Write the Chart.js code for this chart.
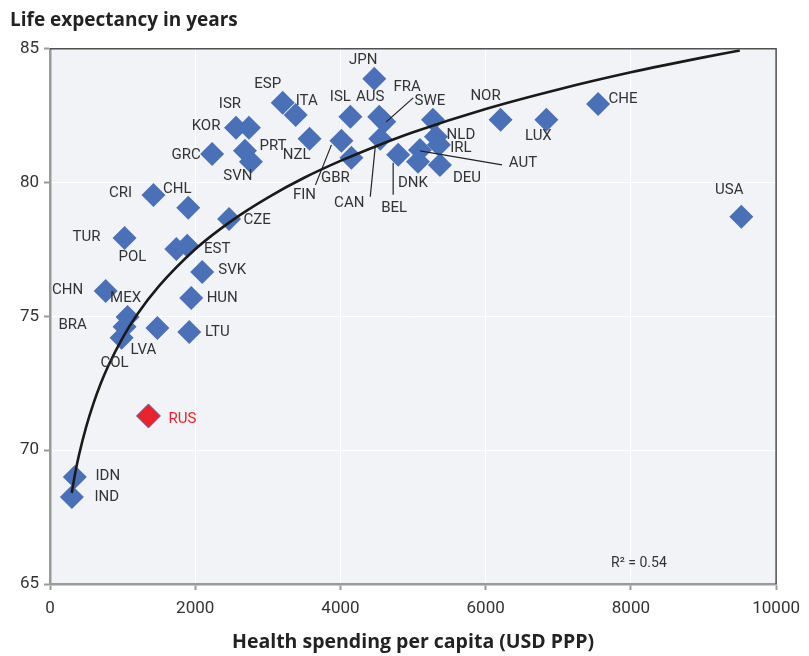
<!DOCTYPE html>
<html>
<head>
<meta charset="utf-8">
<script src="https://cdn.jsdelivr.net/npm/chart.js@4/dist/chart.umd.min.js"></script>
<style>
  html, body { margin: 0; padding: 0; background: #ffffff; }
  #wrap { width: 809px; height: 656px; position: relative; }
</style>
</head>
<body>
<div id="wrap"><canvas id="c" width="809" height="656"></canvas></div>
<script>
// ---- Data ----
const countries = ["JPN","ESP","ITA","KOR","ISR","GRC","PRT","SVN","NZL","CRI","CHL","CZE","TUR","POL","EST","SVK","HUN","CHN","MEX","BRA","COL","LVA","LTU","RUS","IDN","IND","ISL","AUS","FRA","FIN","GBR","CAN","BEL","SWE","NLD","IRL","AUT","DNK","DEU","NOR","LUX","CHE","USA"];
const spending  = [4466,3205,3384,2562,2740,2233,2685,2767,3575,1425,1904,2466,1027,1740,1890,2096,1945,767,1068,1027,986,1479,1918,1356,342,301,4137,4534,4603,4014,4151,4548,4795,5274,5315,5356,5096,5068,5370,6205,6836,7548,9521];
const lifeExp   = [83.88,82.98,82.53,82.05,82.05,81.07,81.19,80.78,81.64,79.54,79.06,78.64,77.93,77.52,77.64,76.66,75.69,75.95,74.98,74.61,74.20,74.57,74.42,71.28,69.0,68.25,82.46,82.46,82.27,81.56,80.93,81.64,81.04,82.35,81.71,81.41,81.22,80.78,80.66,82.35,82.35,82.94,78.72];

// Trend curve, points
const trendX = [300,350,400,500,600,700,800,1000,1200,1500,2000,2500,3000,3500,4000,4500,5000,6000,7000,8000,9000,9500];
const trendY = [68.40,69.19,69.83,70.89,71.76,72.50,73.14,74.20,75.07,76.13,77.51,78.57,79.44,80.18,80.81,81.37,81.88,82.75,83.48,84.12,84.68,84.94];

const xTicks = [0,2000,4000,6000,8000,10000];
const yTicks = [65,70,75,80,85];
const rSquaredText = "R² = 0.54";
const highlight = "RUS";

// ---- Layout of labels (pixel offsets from each marker) ----
const labelOffsets = {
  JPN:[-11,-19], ESP:[-15,-19], ITA:[11,-14], ISR:[-19,-23], KOR:[-30,-1], GRC:[-26,1],
  PRT:[28,-5], SVN:[-13,15], NZL:[-13,17], CRI:[-33,-2], CHL:[-11,-19], CZE:[28,1],
  TUR:[-38,-1], POL:[-44,8], EST:[30,3], SVK:[30,-2], HUN:[31,0], CHN:[-38,-1],
  MEX:[-2,-19], BRA:[-52,-2], LVA:[-14,22], COL:[-7,25], LTU:[28,0], RUS:[34,3],
  IDN:[33,-1], IND:[35,0], ISL:[-10,-20], AUS:[-9,-20], FRA:[23,-35], SWE:[-3,-18],
  NOR:[-15,-23], LUX:[-8,17], CHE:[25,-5], USA:[-12,-27], NLD:[25,-2], IRL:[22,3],
  AUT:[103,13], DNK:[-5,22], DEU:[27,13], BEL:[-4,53], CAN:[-31,65], FIN:[-37,54], GBR:[-16,21]
};
const leaderLines = {
  FRA:[[29,-24],[2,0]],
  FIN:[[-10,4],[-26,44]],
  CAN:[[-5,8],[-10,58]],
  BEL:[[-5,8],[-5,40]],
  AUT:[[0,1],[82,15]]
};

const BLUE = '#4a71b8';
const RED = '#e8232b';
const FONT = 'Roboto, "Liberation Sans", sans-serif';
const BOLD_FONT = '"Open Sans", Roboto, sans-serif';

const bgPlugin = {
  id: 'plotBg',
  beforeDraw(chart) {
    const {ctx, chartArea: a} = chart;
    ctx.save();
    ctx.fillStyle = '#f2f3f6';
    ctx.fillRect(a.left, a.top, a.right - a.left, a.bottom - a.top);
    ctx.restore();
  },
  afterDraw(chart) {
    const {ctx, chartArea: a} = chart;
    ctx.save();
    ctx.strokeStyle = '#505050';
    ctx.lineWidth = 1.5;
    ctx.beginPath();
    ctx.moveTo(a.left, a.top);
    ctx.lineTo(a.right, a.top);
    ctx.lineTo(a.right, a.bottom);
    ctx.stroke();
    ctx.fillStyle = '#333';
    ctx.font = '14px ' + FONT;
    ctx.textAlign = 'left';
    ctx.textBaseline = 'middle';
    ctx.fillText(rSquaredText, a.right - 165, a.bottom - 21);
    ctx.restore();
  }
};

const labelPlugin = {
  id: 'countryLabels',
  afterDatasetsDraw(chart) {
    const {ctx} = chart;
    const meta = chart.getDatasetMeta(1);
    ctx.save();
    ctx.font = '15px ' + FONT;
    ctx.textAlign = 'center';
    ctx.textBaseline = 'middle';
    meta.data.forEach((pt, i) => {
      const c = countries[i];
      const off = labelOffsets[c] || [0, -20];
      ctx.fillStyle = c === highlight ? RED : '#333333';
      ctx.fillText(c, pt.x + off[0], pt.y + off[1]);
      const ll = leaderLines[c];
      if (ll) {
        ctx.strokeStyle = '#222';
        ctx.lineWidth = 1.2;
        ctx.beginPath();
        ctx.moveTo(pt.x + ll[0][0], pt.y + ll[0][1]);
        ctx.lineTo(pt.x + ll[1][0], pt.y + ll[1][1]);
        ctx.stroke();
      }
    });
    ctx.restore();
  }
};

new Chart(document.getElementById('c'), {
  type: 'scatter',
  data: {
    datasets: [
      {
        label: 'Trend',
        data: trendX.map((x, i) => ({x, y: trendY[i]})),
        showLine: true,
        borderColor: '#1a1a1a',
        borderWidth: 2.6,
        pointRadius: 0,
        cubicInterpolationMode: 'monotone',
        order: 0
      },
      {
        label: 'Countries',
        data: spending.map((x, i) => ({x, y: lifeExp[i]})),
        pointStyle: 'rectRot',
        pointRadius: 12,
        pointHoverRadius: 12,
        backgroundColor: ctx => countries[ctx.dataIndex] === highlight ? RED : BLUE,
        borderColor: BLUE,
        borderWidth: ctx => countries[ctx.dataIndex] === highlight ? 1 : 0,
        order: 1
      }
    ]
  },
  options: {
    responsive: false,
    animation: false,
    events: [],
    layout: { padding: { left: 10, right: 29, top: 0, bottom: 0 } },
    plugins: {
      legend: { display: false },
      tooltip: { enabled: false },
      title: {
        display: true,
        text: 'Life expectancy in years',
        align: 'start',
        color: '#222',
        font: { family: BOLD_FONT, size: 19, weight: 'bold' },
        padding: { top: 9, bottom: 17 }
      }
    },
    scales: {
      x: {
        type: 'linear',
        min: 0, max: 10000,
        afterBuildTicks: s => { s.ticks = xTicks.map(v => ({value: v})); },
        ticks: { color: '#333', font: { family: FONT, size: 17 }, padding: 9, maxRotation: 0,
                 callback: v => String(v) },
        grid: { color: '#ffffff', lineWidth: 1, drawTicks: true, tickLength: 6, tickColor: '#9a9a9a', tickWidth: 2 },
        border: { display: true, color: '#9a9a9a', width: 2.5 },
        title: {
          display: true,
          text: 'Health spending per capita (USD PPP)',
          color: '#222',
          font: { family: BOLD_FONT, size: 19.5, weight: 'bold' },
          padding: { top: 8, bottom: 2 }
        },
        afterFit: s => { s.height = 72; }
      },
      y: {
        type: 'linear',
        min: 65, max: 85,
        afterBuildTicks: s => { s.ticks = yTicks.map(v => ({value: v})); },
        ticks: { color: '#333', font: { family: FONT, size: 17 }, padding: 5 },
        grid: { color: '#ffffff', lineWidth: 1, drawTicks: true, tickLength: 6, tickColor: '#9a9a9a', tickWidth: 2 },
        border: { display: true, color: '#9a9a9a', width: 2.5 },
        afterFit: s => { s.width = 40; }
      }
    }
  },
  plugins: [bgPlugin, labelPlugin]
});
</script>
</body>
</html>
